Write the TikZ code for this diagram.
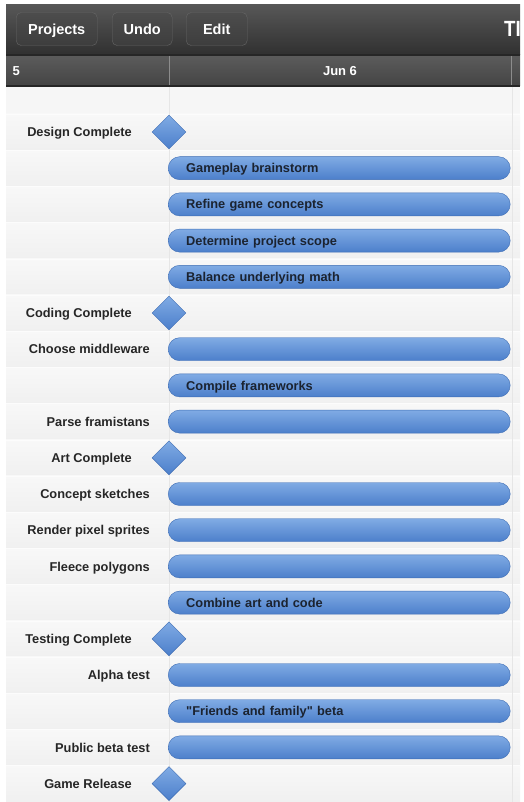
\documentclass[tikz,border=0pt]{standalone}
\usepackage{fontspec}
\setmainfont{Liberation Sans}
\newfontfamily\plainsans{Liberation Sans}
\usetikzlibrary{shapes.geometric}

\definecolor{bartop}{HTML}{80ABE4}
\definecolor{barbottom}{HTML}{4C7FCB}
\definecolor{barline}{HTML}{3E6DB4}
\definecolor{bartext}{HTML}{1B2330}
\definecolor{labelgray}{HTML}{262626}
\definecolor{toolbartop}{HTML}{575757}
\definecolor{toolbarbottom}{HTML}{303030}
\definecolor{headertop}{HTML}{5C5C5C}
\definecolor{headerbottom}{HTML}{444444}
\definecolor{contentbg}{HTML}{F6F6F6}
\definecolor{rowtop}{HTML}{F8F8F8}
\definecolor{rowbottom}{HTML}{F0F0F0}
\definecolor{gridline}{HTML}{E6E6E6}

\newcommand{\dquote}{{\plainsans\bfseries"}}

\begin{document}
\begin{tikzpicture}[x=1pt, y=-1pt]
        \tikzstyle{every node}=[font=\bfseries\fontsize{12.8}{15}\selectfont, text=labelgray,
          text height=9.2pt, text depth=0pt]
        \tikzstyle{label}=[anchor=east, inner xsep=0pt]
        \tikzstyle{bar}=[rounded corners=11.5pt, draw=barline, top color=bartop, bottom color=barbottom,
          minimum width=342pt, minimum height=23pt, inner xsep=18pt, inner ysep=0pt,
          text width=306pt, align=left, anchor=west, text=bartext]
        \tikzstyle{milestone}=[diamond, draw=barline, top color=bartop, bottom color=barbottom,
          minimum width=34pt, minimum height=34pt, inner sep=0pt]
        \tikzstyle{button}=[rounded corners=5pt, draw=black!60, top color=black!70, bottom color=black!76,
          minimum height=33pt, anchor=west, text=white, font=\bfseries\fontsize{14.5}{16}\selectfont,
          text height=10.4pt]
        \tikzstyle{headtext}=[text=white, font=\bfseries\fontsize{13}{15}\selectfont]

        \useasboundingbox (0,0) rectangle (523,802);
        \fill[white] (0,0) rectangle (523,802);

        % toolbar and date header
        \fill[top color=toolbartop, bottom color=toolbarbottom] (6,5) rectangle (520,55);
        \fill[top color=headertop, bottom color=headerbottom] (6,55) rectangle (520,86);
        \draw[black!85, line width=1.5pt] (6,55) -- (520,55);
        \draw[black!85, line width=1.5pt] (6,86) -- (520,86);
        \draw[black!45] (169,56) -- (169,85) (511,56) -- (511,85);

        \foreach \x/\w/\name in {16/81/Projects, 112/60/Undo, 186/61/Edit}
        {
          \path (\x,29) node[button, minimum width=\w pt] (b\name) {\name};
        }
        \path (504,29) node[anchor=west, inner xsep=0pt, xscale=0.85, text=white, text height=15.8pt,
          font=\bfseries\fontsize{22}{24}\selectfont] (title) {TI};
        \path (9,71) node[headtext, anchor=west] (day5) {5};
        \path (340,71) node[headtext] (day6) {Jun 6};

        % rows
        \fill[contentbg] (6,87) rectangle (520,802);
        \foreach \i in {0,...,18}
        {
          \pgfmathsetmacro\y{132+36.2*\i}
          \fill[top color=rowtop, bottom color=rowbottom] (6,\y-18.1) rectangle (520,\y+18.1);
          \draw[white!60!rowtop] (6,\y-18.1) -- (520,\y-18.1);
        }
        \draw[gridline] (169,87) -- (169,802) (512,87) -- (512,802);

        \foreach \i/\name in {0/Design Complete, 5/Coding Complete, 9/Art Complete,
                              14/Testing Complete, 18/Game Release}
        {
          \pgfmathsetmacro\y{132+36.2*\i}
          \path (132,\y) node[label] (l\i) {\name};
          \path (169,\y) node[milestone] (m\i) {};
        }

        \foreach \i/\name in {1/Gameplay brainstorm, 2/Refine game concepts, 3/Determine project scope,
                              4/Balance underlying math, 7/Compile frameworks, 13/Combine art and code,
                              16/\dquote Friends and family\dquote{} beta}
        {
          \pgfmathsetmacro\y{132+36.2*\i}
          \path (168,\y) node[bar] (t\i) {\name};
        }

        \foreach \i/\name in {6/Choose middleware, 8/Parse framistans, 10/Concept sketches,
                              11/Render pixel sprites, 12/Fleece polygons, 15/Alpha test,
                              17/Public beta test}
        {
          \pgfmathsetmacro\y{132+36.2*\i}
          \path (150,\y) node[label] (l\i) {\name};
          \path (168,\y) node[bar] (t\i) {};
        }
      \end{tikzpicture}
\end{document}
